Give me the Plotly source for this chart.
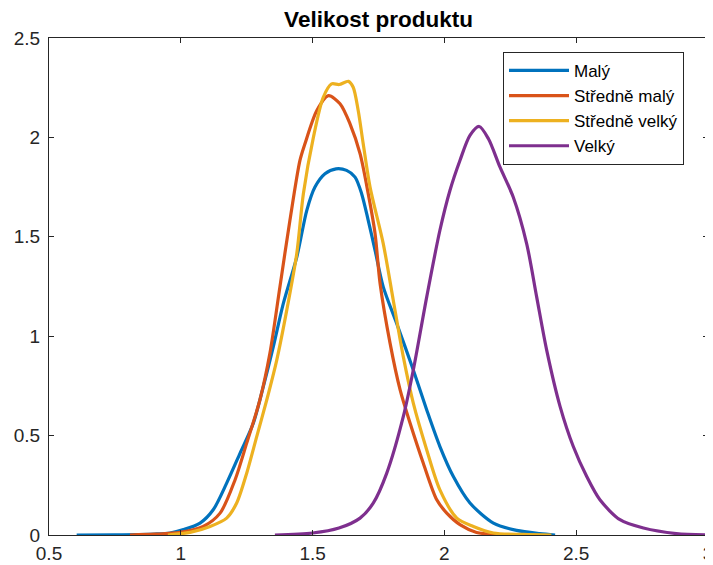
import plotly.graph_objects as go

# ---- data ----
names = ["Malý", "Středně malý", "Středně velký", "Velký"]
colors = ["#0072BD", "#D95319", "#EDB120", "#7E2F8E"]

maly_x = [0.605, 0.75, 0.9, 0.959, 1.01, 1.073, 1.123, 1.174, 1.225, 1.275, 1.313, 1.351, 1.389,
          1.44, 1.478, 1.509, 1.547, 1.589, 1.629, 1.661, 1.686, 1.711, 1.737, 1.768, 1.819,
          1.882, 1.933, 1.983, 2.034, 2.097, 2.186, 2.274, 2.362, 2.42]
maly_y = [0.0, 0.001, 0.005, 0.01, 0.027, 0.06, 0.127, 0.261, 0.412, 0.562, 0.746, 0.947, 1.165,
          1.398, 1.633, 1.75, 1.817, 1.842, 1.834, 1.80, 1.717, 1.583, 1.432, 1.248, 1.064,
          0.83, 0.629, 0.445, 0.294, 0.161, 0.06, 0.023, 0.007, 0.0]

smaly_x = [0.807, 0.9, 0.997, 1.085, 1.149, 1.206, 1.25, 1.30, 1.338, 1.376, 1.414, 1.452, 1.471,
           1.516, 1.56, 1.604, 1.642, 1.68, 1.711, 1.737, 1.756, 1.794, 1.832, 1.87, 1.92,
           1.971, 2.009, 2.059, 2.122, 2.2, 2.3]
smaly_y = [0.0, 0.004, 0.013, 0.043, 0.110, 0.278, 0.462, 0.679, 0.914, 1.248, 1.583, 1.884, 1.968,
           2.135, 2.21, 2.169, 2.068, 1.918, 1.717, 1.516, 1.265, 0.964, 0.73, 0.562, 0.361,
           0.177, 0.110, 0.052, 0.013, 0.002, 0.0]

svelky_x = [0.951, 1.035, 1.111, 1.174, 1.212, 1.25, 1.288, 1.326, 1.364, 1.402, 1.44, 1.465,
            1.503, 1.54, 1.572, 1.601, 1.636, 1.654, 1.673, 1.692, 1.718, 1.768, 1.806, 1.844,
            1.882, 1.933, 1.983, 2.047, 2.11, 2.186, 2.3, 2.406]
svelky_y = [0.0, 0.013, 0.043, 0.085, 0.161, 0.311, 0.495, 0.679, 0.88, 1.131, 1.416, 1.717,
            2.0, 2.20, 2.269, 2.266, 2.282, 2.252, 2.135, 1.968, 1.75, 1.466, 1.181, 0.897,
            0.663, 0.428, 0.227, 0.085, 0.043, 0.01, 0.003, 0.0]

velky_x = [1.357, 1.5, 1.6, 1.68, 1.73, 1.781, 1.844, 1.882, 1.933, 1.983, 2.021, 2.059, 2.097,
           2.132, 2.167, 2.211, 2.261, 2.312, 2.35, 2.388, 2.439, 2.489, 2.54, 2.59, 2.666,
           2.755, 2.88, 3.0]
velky_y = [0.0, 0.01, 0.035, 0.085, 0.16, 0.31, 0.595, 0.83, 1.198, 1.533, 1.733, 1.884, 2.01,
           2.055, 1.993, 1.85, 1.70, 1.466, 1.198, 0.93, 0.646, 0.445, 0.294, 0.177, 0.077,
           0.035, 0.007, 0.0]

x_ticks = [0.5, 1, 1.5, 2, 2.5, 3]
x_tick_text = ["0.5", "1", "1.5", "2", "2.5", "3"]
y_ticks = [0, 0.5, 1, 1.5, 2, 2.5]
y_tick_text = ["0", "0.5", "1", "1.5", "2", "2.5"]

series = [(maly_x, maly_y), (smaly_x, smaly_y), (svelky_x, svelky_y), (velky_x, velky_y)]

fig = go.Figure()
for (xs, ys), name, col in zip(series, names, colors):
    fig.add_trace(go.Scatter(x=xs, y=ys, mode="lines", name=name, cliponaxis=False,
                             line=dict(color=col, width=3.2, shape="spline", smoothing=0.8)))

FONT = "Liberation Sans, Arial, sans-serif"
axis_common = dict(showgrid=False, zeroline=False, showline=True, linecolor="#262626",
                   linewidth=1, mirror="ticks", ticks="inside", ticklen=5, tickcolor="#262626",
                   automargin=False, ticklabeloverflow="allow",
                   tickfont=dict(family=FONT, size=19, color="#262626"))

# page body has an 8px margin: figure is sized to fit the 713x565 window
W, H = 705, 557
fig.update_layout(
    width=W, height=H,
    margin=dict(l=41, r=5, t=30, b=30),
    paper_bgcolor="white", plot_bgcolor="white",
    title=dict(text="<b>Velikost produktu</b>", x=370.5 / W, xanchor="center",
               y=1 - 11.5 / H, yanchor="middle",
               font=dict(family=FONT, size=22.5, color="#000000")),
    xaxis=dict(range=[0.5, 3], tickvals=x_ticks, ticktext=x_tick_text, ticklabelstandoff=1,
               **axis_common),
    yaxis=dict(range=[0, 2.5], tickvals=y_ticks, ticktext=y_tick_text, ticklabelstandoff=4,
               **axis_common),
    legend=dict(x=454 / 659, y=0.972, xanchor="left", yanchor="top",
                bgcolor="white", bordercolor="#262626", borderwidth=1,
                itemwidth=60,
                font=dict(family=FONT, size=17, color="#000000"),
                tracegroupgap=0),
    showlegend=True,
)

fig.write_html("out.html")
